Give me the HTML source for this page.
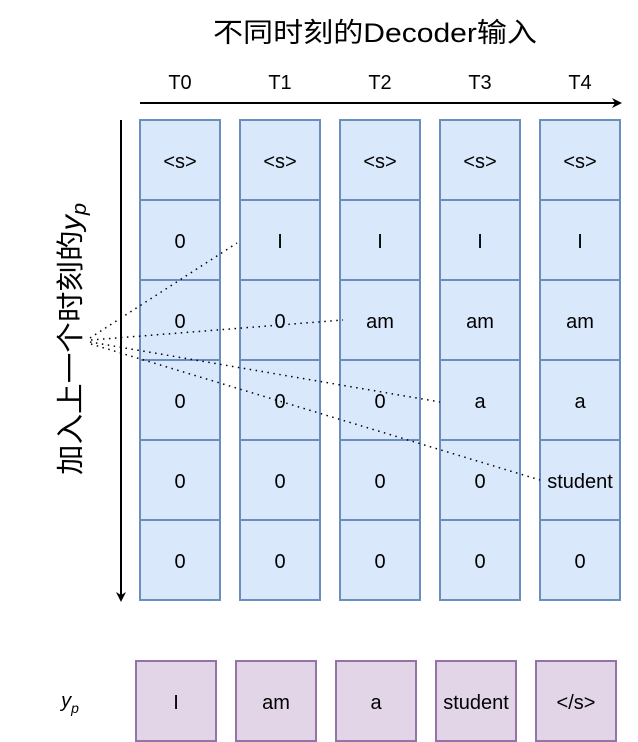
<!DOCTYPE html>
<html><head><meta charset="utf-8"><style>
html,body{margin:0;padding:0;background:#fff;width:638px;height:742px;overflow:hidden}
svg text{font-family:"Liberation Sans","Noto Sans CJK SC",sans-serif;fill:#000}
</style></head><body>
<svg id="d" width="638" height="742" viewBox="0 0 638 742" xmlns="http://www.w3.org/2000/svg">
<defs><marker id="ah" markerWidth="10" markerHeight="10" refX="8" refY="5" orient="auto" markerUnits="userSpaceOnUse"><path d="M0,0 L10,5 L0,10 L3,5 Z" fill="#000"/></marker></defs>
<text x="213" y="42" font-size="27" textLength="324" lengthAdjust="spacingAndGlyphs">不同时刻的Decoder输入</text>
<line x1="140" y1="103" x2="620" y2="103" stroke="#000" stroke-width="2" marker-end="url(#ah)"/>
<line x1="121" y1="120" x2="121" y2="600" stroke="#000" stroke-width="2" marker-end="url(#ah)"/>
<text transform="translate(80,475) rotate(-90)" font-size="28" textLength="272" lengthAdjust="spacingAndGlyphs">加入上一个时刻的<tspan font-style="italic">y</tspan><tspan font-style="italic" font-size="20" dy="6">p</tspan></text>
<text x="70" y="707" font-size="20" font-style="italic" text-anchor="middle">y<tspan font-size="14" dy="6">p</tspan></text>
<g id="g"></g>
</svg>
<script>
const times=["T0","T1","T2","T3","T4"];
const grid=[
["<s>","<s>","<s>","<s>","<s>"],
["0","I","I","I","I"],
["0","0","am","am","am"],
["0","0","0","a","a"],
["0","0","0","0","student"],
["0","0","0","0","0"]];
const outputs=["I","am","a","student","</s>"];
const NS="http://www.w3.org/2000/svg";
const g=document.getElementById("g");
function mk(t,a){const e=document.createElementNS(NS,t);for(const k in a)e.setAttribute(k,a[k]);g.appendChild(e);return e;}
const cx=i=>140+i*100, ry=r=>120+r*80;
times.forEach((t,i)=>{const e=mk("text",{x:cx(i)+40,y:89,"font-size":20,"text-anchor":"middle"});e.textContent=t;

});
grid.forEach((row,r)=>row.forEach((v,i)=>{
const rc=mk("rect",{x:cx(i),y:ry(r),width:80,height:80,fill:"#dae8fc",stroke:"#6c8ebf","stroke-width":2});


const t=mk("text",{x:cx(i)+40,y:ry(r)+48,"font-size":20,"text-anchor":"middle"});t.textContent=v;


}));
outputs.forEach((v,i)=>{
const rc=mk("rect",{x:cx(i)-4,y:661,width:80,height:80,fill:"#e1d5e7",stroke:"#9673a6","stroke-width":2});


const t=mk("text",{x:cx(i)+36,y:709,"font-size":20,"text-anchor":"middle"});t.textContent=v;


});
const targets=[[237,243],[343,320],[440,402],[540,480]];
targets.forEach((p,k)=>{
const l=mk("path",{d:`M${90+k%2},${338+k*2} L${p[0]},${p[1]}`,stroke:"#000","stroke-width":1.5,"stroke-dasharray":"1.5 4.5",fill:"none"});


});
</script>
</body></html>
